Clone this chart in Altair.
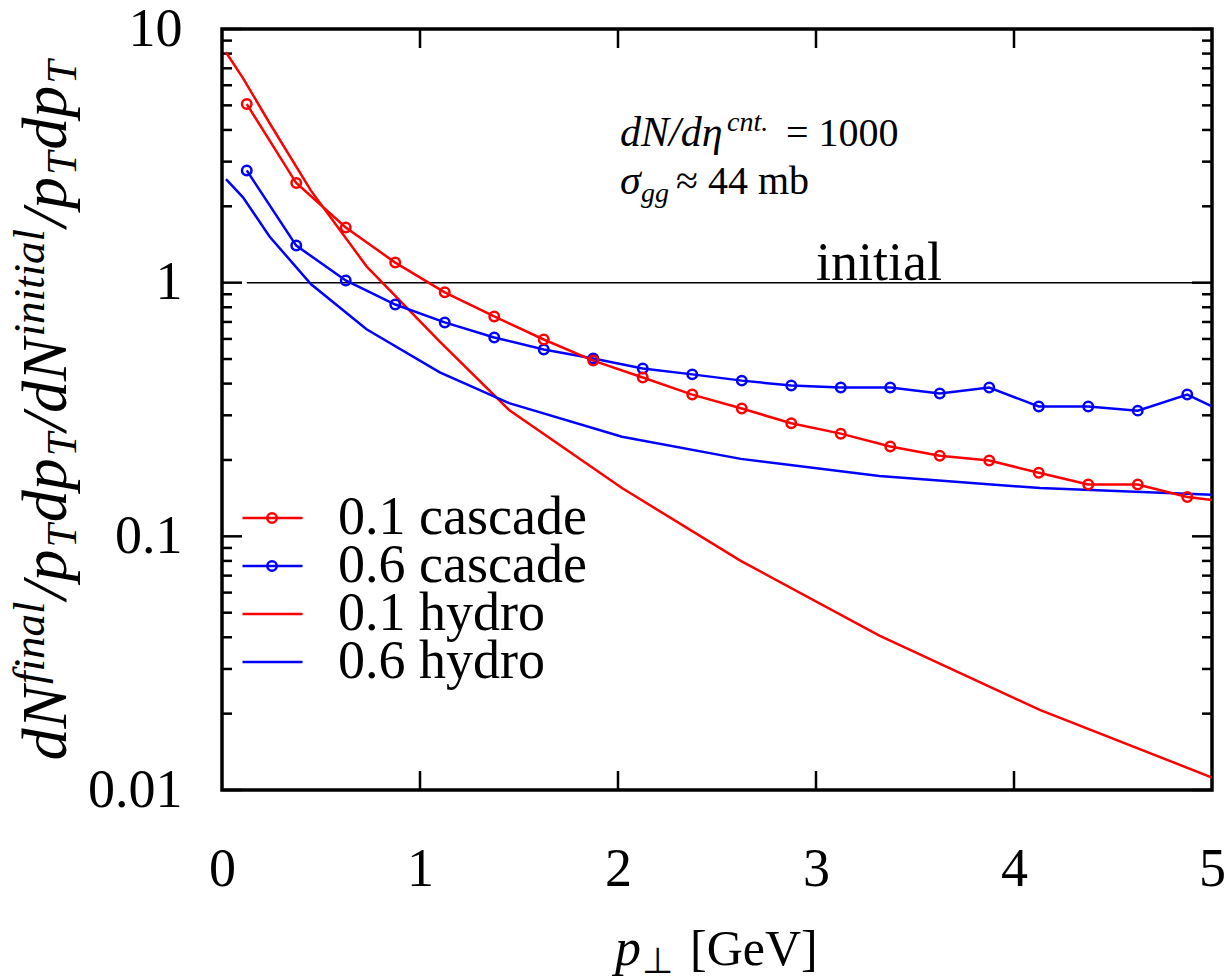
import altair as alt
import pandas as pd

# ---------------- data ----------------
casc_x = [0.125, 0.375, 0.625, 0.875, 1.125, 1.375, 1.625, 1.875, 2.125, 2.375,
          2.625, 2.875, 3.125, 3.375, 3.625, 3.875, 4.125, 4.375, 4.625, 4.875]
red_casc = [5.06, 2.47, 1.65, 1.20, 0.916, 0.736, 0.597, 0.493, 0.423, 0.362,
            0.319, 0.279, 0.254, 0.226, 0.208, 0.199, 0.178, 0.160, 0.160, 0.143]
blue_casc = [2.77, 1.40, 1.02, 0.82, 0.697, 0.608, 0.545, 0.502, 0.459, 0.435,
             0.411, 0.393, 0.386, 0.386, 0.366, 0.386, 0.325, 0.325, 0.313, 0.362]
casc_end_x = 5.0
red_casc_end = 0.139
blue_casc_end = 0.325

hydro_x = [0.02, 0.106, 0.24, 0.45, 0.73, 1.1, 1.45, 2.02, 2.62, 3.32, 4.13, 5.0]
red_hydro = [8.1, 6.4, 4.26, 2.30, 1.16, 0.586, 0.315, 0.155, 0.080, 0.0406, 0.0207, 0.0112]
blue_hydro = [2.56, 2.17, 1.52, 0.985, 0.655, 0.443, 0.335, 0.247, 0.202, 0.173, 0.155, 0.146]

series_names = ["0.1 cascade", "0.6 cascade", "0.1 hydro", "0.6 hydro"]
series_colors = ["#ff0000", "#0000ff", "#ff0000", "#0000ff"]

x_labels = [0, 1, 2, 3, 4, 5]
x_inner_ticks = [1, 2, 3, 4]
y_labels = [0.01, 0.1, 1, 10]
y_minor = [0.02, 0.03, 0.04, 0.05, 0.06, 0.07, 0.08, 0.09,
           0.2, 0.3, 0.4, 0.5, 0.6, 0.7, 0.8, 0.9,
           2, 3, 4, 5, 6, 7, 8, 9]

initial_level = [1.0]
initial_from = [0.125]
initial_to = [5.0]
initial_label = ["initial"]
initial_label_x = [3.0]

ann1_x, ann1_y = 2.01, 3.45
ann2_x, ann2_y = 2.01, 2.23

# y title pieces: (text, role) role: base / sup / sub
y_title_parts = [("dN", "base"), ("final", "sup"), ("/p", "base"), ("T", "sub"),
                 ("dp", "base"), ("T", "sub"), ("/dN", "base"), ("initial", "sup"),
                 ("/p", "base"), ("T", "sub"), ("dp", "base"), ("T", "sub")]

# ---------------- layout ----------------
W, H = 990, 761
FONT = "Liberation Serif"

rows = []
for name, xs, ys in [
    ("0.1 hydro", hydro_x, red_hydro),
    ("0.6 hydro", hydro_x, blue_hydro),
    ("0.6 cascade", casc_x + [casc_end_x], blue_casc + [blue_casc_end]),
    ("0.1 cascade", casc_x + [casc_end_x], red_casc + [red_casc_end]),
]:
    for x, y in zip(xs, ys):
        rows.append({"x": x, "y": y, "series": name})
lines_df = pd.DataFrame(rows)

prow = []
for name, ys in [("0.6 cascade", blue_casc), ("0.1 cascade", red_casc)]:
    for x, y in zip(casc_x, ys):
        prow.append({"x": x, "y": y, "series": name})
pts_df = pd.DataFrame(prow)

xscale = alt.Scale(domain=[0, 5], nice=False, zero=False)
yscale = alt.Scale(type="log", domain=[0.01, 10], nice=False)

x_axis = alt.Axis(values=x_labels, ticks=False, domain=False, grid=False,
                  labelFont=FONT, labelFontSize=54, labelPadding=52,
                  labelFlush=False, labelOverlap=False, labelColor="black", title=None)
y_axis = alt.Axis(values=y_labels, format="~g", ticks=False, domain=False, grid=False,
                  labelFont=FONT, labelFontSize=54, labelPadding=40,
                  labelOverlap=False, labelColor="black", title=None)


def X(field):
    return alt.X(field, scale=xscale, axis=x_axis)


def Y(field):
    return alt.Y(field, scale=yscale, axis=y_axis)


LEG_Y = 469
leg_common = dict(title=None, orient="none", legendY=LEG_Y, symbolStrokeWidth=2.5,
                  symbolOpacity=1, labelFont=FONT, labelFontSize=54, labelOffset=34,
                  rowPadding=-6, clipHeight=40, padding=0, labelLimit=0)

lines = alt.Chart(lines_df).mark_line(strokeWidth=2.5, clip=True).encode(
    x=X("x:Q"),
    y=Y("y:Q"),
    color=alt.Color("series:N",
                    scale=alt.Scale(domain=series_names, range=series_colors),
                    legend=alt.Legend(legendX=19, symbolType="stroke", symbolSize=3600,
                                      labelColor="black", **leg_common)),
)

points = alt.Chart(pts_df).mark_point(filled=False, size=90, strokeWidth=2.5,
                                      opacity=1, clip=True).encode(
    x=X("x:Q"),
    y=Y("y:Q"),
    stroke=alt.Stroke("series:N",
                      scale=alt.Scale(domain=series_names[:2], range=series_colors[:2]),
                      legend=alt.Legend(legendX=23, symbolType="circle", symbolSize=90,
                                        symbolFillColor="transparent", labelOpacity=0,
                                        **leg_common)),
)

init_df = pd.DataFrame({"y": initial_level, "x": initial_from, "x2": initial_to,
                        "lx": initial_label_x, "t": initial_label})
init_rule = alt.Chart(init_df).mark_rule(color="black", strokeWidth=1.5).encode(
    x=X("x:Q"), x2="x2:Q", y=Y("y:Q"))
init_text = alt.Chart(init_df).mark_text(font=FONT, fontSize=54, align="left",
                                         baseline="alphabetic", dy=-3, color="black").encode(
    x=X("lx:Q"), y=Y("y:Q"), text="t:N")

# ticks (inward) on four sides
ymaj_df = pd.DataFrame({"v": y_labels})
ymin_df = pd.DataFrame({"v": y_minor})
xin_df = pd.DataFrame({"v": x_inner_ticks})
TW = 2.5


def yticks(df, x0, x1):
    return alt.Chart(df).mark_rule(color="black", strokeWidth=TW).encode(
        y=Y("v:Q"), x=alt.value(x0), x2=alt.value(x1))


def xticks(df, y0, y1):
    return alt.Chart(df).mark_rule(color="black", strokeWidth=TW).encode(
        x=X("v:Q"), y=alt.value(y0), y2=alt.value(y1))


ticks = [
    yticks(ymaj_df, 0, 20), yticks(ymaj_df, W - 20, W),
    yticks(ymin_df, 0, 10), yticks(ymin_df, W - 10, W),
    xticks(xin_df, 0, 19), xticks(xin_df, H - 19, H),
]


# annotations
def txt(x, y, s, size, style="normal", dx=0, dy=0):
    d = pd.DataFrame({"x": [x], "y": [y], "t": [s]})
    return alt.Chart(d).mark_text(font=FONT, fontSize=size, fontStyle=style, align="left",
                                  baseline="alphabetic", dx=dx, dy=dy, color="black").encode(
        x=X("x:Q"), y=Y("y:Q"), text="t:N")


ann = [
    txt(ann1_x, ann1_y, "dN/dη", 42, "italic"),
    txt(ann1_x, ann1_y, "cnt.", 28, "italic", dx=107, dy=-15),
    txt(ann1_x, ann1_y, "= 1000", 40, "normal", dx=166),
    txt(ann2_x, ann2_y, "σ", 42, "italic"),
    txt(ann2_x, ann2_y, "gg", 28, "italic", dx=21, dy=8),
    txt(ann2_x, ann2_y, "≈ 44 mb", 40, "normal", dx=56),
]


# free-positioned text (pixel offsets relative to the plot area)
def ptxt(px, py, s, size, style="normal", angle=0):
    d = pd.DataFrame({"t": [s]})
    return alt.Chart(d).mark_text(font=FONT, fontSize=size, fontStyle=style, align="left",
                                  baseline="alphabetic", angle=angle, color="black").encode(
        x=alt.value(px), y=alt.value(py), text="t:N")


xtitle = [
    ptxt(393, 936, "p", 52, "italic"),
    ptxt(420, 944, "⊥", 36),
    ptxt(468, 936, "[GeV]", 50),
]

# y title, typeset from pieces, rotated (reads bottom to top)
ITAL_W = {"d": 0.5, "N": 0.667, "/": 0.278, "p": 0.5, "T": 0.556, "f": 0.278,
          "i": 0.278, "n": 0.5, "a": 0.5, "l": 0.278, "t": 0.278}
ROLE_SIZE = {"base": 64, "sup": 45, "sub": 42}
ROLE_X = {"base": -156, "sup": -178, "sub": -146}
widths = [sum(ITAL_W[c] for c in s) * ROLE_SIZE[r] + 2 for s, r in y_title_parts]
total = sum(widths)
pos = H / 2 + total / 2
ytitle = []
for (s, r), w in zip(y_title_parts, widths):
    ytitle.append(ptxt(ROLE_X[r], pos, s, ROLE_SIZE[r], "italic", angle=270))
    pos -= w

chart = alt.layer(
    init_rule, init_text, *ticks, lines, points, *ann, *xtitle, *ytitle
).resolve_scale(color="independent", stroke="independent").properties(
    width=W, height=H,
    background="white",
    autosize=alt.AutoSizeParams(type="none"),
    padding={"left": 222, "top": 29, "right": 16, "bottom": 190},
).configure_view(stroke="black", strokeWidth=3.5)

chart.save("out.html", embed_options={"renderer": "svg", "actions": False})
